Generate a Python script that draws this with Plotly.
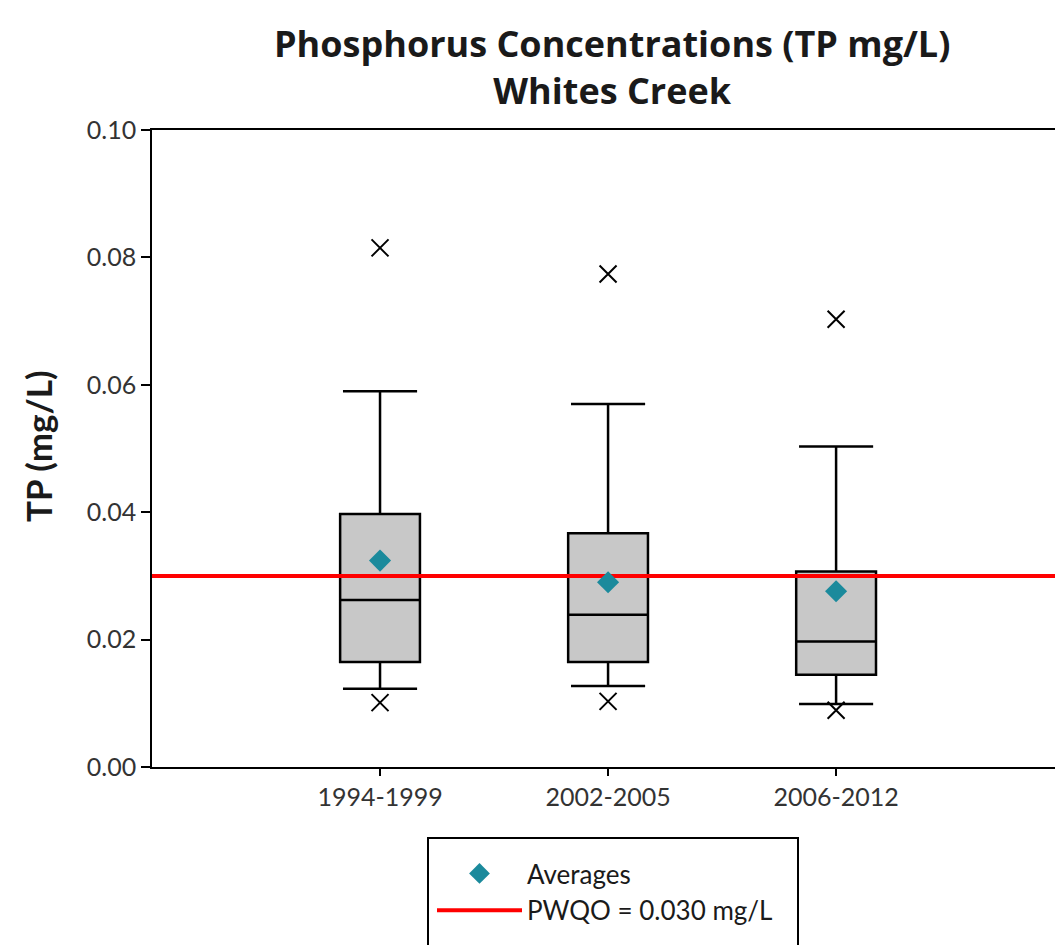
import plotly.graph_objects as go

# Sampling periods and total phosphorus summary statistics (mg/L)
categories = ["1994-1999", "2002-2005", "2006-2012"]
q1 = [0.0165, 0.0165, 0.0145]
median = [0.0262, 0.0239, 0.0197]
q3 = [0.0397, 0.0367, 0.0307]
lower_whisker = [0.0123, 0.0127, 0.0099]
upper_whisker = [0.0590, 0.0570, 0.0503]
means = [0.0324, 0.0290, 0.0276]
max_values = [0.0815, 0.0774, 0.0703]
min_values = [0.0101, 0.0103, 0.0089]
pwqo = 0.030

y_ticks = [0.00, 0.02, 0.04, 0.06, 0.08, 0.10]

title_lines = ["Phosphorus Concentrations (TP mg/L)", "Whites Creek"]

# Figure geometry
W, H = 1055, 945
L, R, T, B = 152, 0, 130, 178
X_RANGE = [-1.0, 2.96]
BOX_WIDTH = 0.35
CAP_HALF = 0.1625
FONT = "Lato"
TITLE_FONT = "Open Sans"

xs = list(range(len(categories)))

plot_w = W - L - R
plot_h = H - T - B


def px_x(p):
    return (p - L) / plot_w


def px_y(p):
    return (H - B - p) / plot_h


fig = go.Figure()

# Boxes with whiskers
fig.add_trace(go.Box(
    x=xs, q1=q1, median=median, q3=q3,
    lowerfence=lower_whisker, upperfence=upper_whisker,
    width=BOX_WIDTH, fillcolor="#c8c8c8",
    line=dict(color="black", width=2.5),
    whiskerwidth=0, boxpoints=False, hoverinfo="skip",
    showlegend=False,
))

# Whisker caps
cap_x, cap_y = [], []
for x, lo, hi in zip(xs, lower_whisker, upper_whisker):
    cap_x += [x - CAP_HALF, x + CAP_HALF, None, x - CAP_HALF, x + CAP_HALF, None]
    cap_y += [hi, hi, None, lo, lo, None]
fig.add_trace(go.Scatter(
    x=cap_x, y=cap_y, mode="lines",
    line=dict(color="black", width=2.5),
    hoverinfo="skip", showlegend=False,
))

# Provincial objective line
fig.add_trace(go.Scatter(
    x=X_RANGE, y=[pwqo, pwqo], mode="lines",
    line=dict(color="#ff0000", width=4),
    name="PWQO = 0.030 mg/L",
))

# Averages
fig.add_trace(go.Scatter(
    x=xs, y=means, mode="markers",
    marker=dict(symbol="diamond", size=17, color="#1b8a9c"),
    name="Averages",
))

# Maximum and minimum observations
fig.add_trace(go.Scatter(
    x=xs + xs, y=max_values + min_values, mode="markers",
    marker=dict(symbol="x-thin", size=17,
                line=dict(color="black", width=2)),
    hoverinfo="skip", showlegend=False,
))

# Legend frame
fig.add_shape(
    type="rect", xref="paper", yref="paper",
    x0=px_x(428), x1=px_x(798), y0=px_y(960), y1=px_y(838),
    line=dict(color="black", width=2), fillcolor="rgba(0,0,0,0)",
)

# Two-line title
fig.add_annotation(
    text="<br>".join("<b>" + line + "</b>" for line in title_lines),
    xref="paper", yref="paper", x=px_x(612), y=px_y(67),
    xanchor="center", yanchor="middle", showarrow=False,
    font=dict(family=TITLE_FONT, size=36, color="#1a1a1a"),
)

# Y-axis title
fig.add_annotation(
    text="<b>TP (mg/L)</b>",
    xref="paper", yref="paper", x=px_x(38), y=px_y(446),
    xanchor="center", yanchor="middle", textangle=-90, showarrow=False,
    font=dict(family=FONT, size=35, color="#1a1a1a"),
)

fig.update_layout(
    width=W, height=H,
    margin=dict(l=L, r=R, t=T, b=B, pad=0),
    paper_bgcolor="white", plot_bgcolor="white",
    font=dict(family=FONT, color="#262626"),
    legend=dict(
        x=px_x(432), y=px_y(850), xanchor="left", yanchor="top",
        bgcolor="rgba(0,0,0,0)", borderwidth=0,
        font=dict(family=FONT, size=26, color="#1a1a1a"),
        itemwidth=85, tracegroupgap=0,
        traceorder="reversed",
    ),
    xaxis=dict(
        range=X_RANGE, tickmode="array", tickvals=xs, ticktext=categories,
        ticks="outside", ticklen=7, tickwidth=1.5, tickcolor="black",
        showline=True, linecolor="black", linewidth=1.5, mirror=True,
        showgrid=False, zeroline=False,
        tickfont=dict(family=FONT, size=25, color="#333333"),
    ),
    yaxis=dict(
        range=[0, 0.1], tickmode="array", tickvals=y_ticks,
        tickformat=".2f",
        ticks="outside", ticklen=9, tickwidth=1.5, tickcolor="black",
        showline=True, linecolor="black", linewidth=1.5,
        showgrid=False, zeroline=False,
        tickfont=dict(family=FONT, size=25, color="#333333"),
    ),
)

fig.write_html("out.html")
